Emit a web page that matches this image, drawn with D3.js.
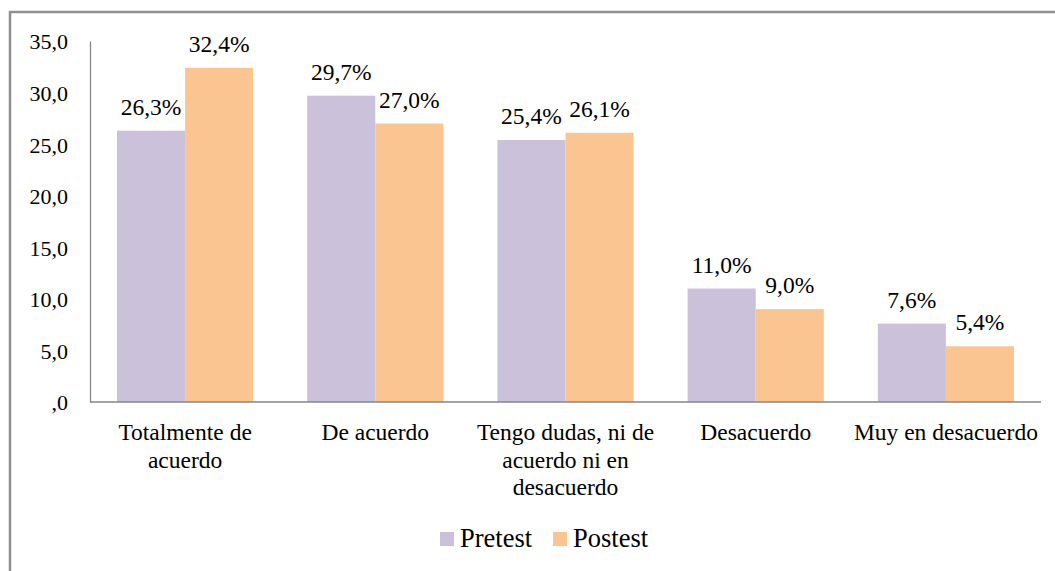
<!DOCTYPE html>
<html>
<head>
<meta charset="utf-8">
<script src="https://cdn.jsdelivr.net/npm/d3@7"></script>
<style>
  body { margin: 0; background: #fff; }
</style>
</head>
<body>
<div id="chart"></div>
<script>
//============Grouped bar chart=========//
var categories = [
  ['Totalmente de', 'acuerdo'],
  ['De acuerdo'],
  ['Tengo dudas, ni de', 'acuerdo ni en', 'desacuerdo'],
  ['Desacuerdo'],
  ['Muy en desacuerdo']
];
var seriesNames = ['Pretest', 'Postest'];
var pretest = [26.3, 29.7, 25.4, 11.0, 7.6];
var postest = [32.4, 27.0, 26.1, 9.0, 5.4];
var yTicks = [0, 5, 10, 15, 20, 25, 30, 35];

var colors = ['#ccc1da', '#fac591'];
var serif = '"Liberation Serif"';

var width = 1055, height = 571;
var plot = {left: 90, right: 1041, top: 41, bottom: 402};

var svg = d3.select('#chart').append('svg')
  .attr('width', width)
  .attr('height', height);

// chart border (cut by the right and bottom edges)
svg.append('rect')
  .attr('x', 10).attr('y', 12)
  .attr('width', 1060).attr('height', 580)
  .attr('fill', 'none')
  .attr('stroke', '#8f8f8f')
  .attr('stroke-width', 2.5);

var x0 = d3.scaleBand()
  .domain(d3.range(categories.length))
  .range([plot.left, plot.right])
  .paddingInner(0.284)
  .paddingOuter(0.142);

var x1 = d3.scaleBand()
  .domain(seriesNames)
  .range([0, x0.bandwidth()]);

var y = d3.scaleLinear()
  .domain([0, 35])
  .range([plot.bottom, plot.top]);

var fmt = function(v) { return d3.format('.1f')(v).replace('.', ',').replace(/^0/, ''); };

// y axis
var yAxis = svg.append('g')
  .attr('transform', 'translate(' + plot.left + ',0)')
  .call(d3.axisLeft(y).tickValues(yTicks).tickSize(0).tickPadding(22).tickFormat(fmt));
yAxis.attr('font-family', null).attr('font-size', null);
yAxis.select('.domain').attr('stroke', '#868686').attr('stroke-width', 1.3);
yAxis.selectAll('text')
  .style('font-family', serif)
  .style('font-size', '22px')
  .style('fill', '#000')
  .attr('dy', '0.36em');

// bars
var data = categories.map(function(c, i) {
  return {i: i, values: [pretest[i], postest[i]]};
});

var groups = svg.selectAll('.group')
  .data(data)
  .enter().append('g')
  .attr('class', 'group')
  .attr('transform', function(d) { return 'translate(' + x0(d.i) + ',0)'; });

groups.selectAll('rect')
  .data(function(d) { return d.values.map(function(v, k) { return {k: k, v: v}; }); })
  .enter().append('rect')
  .attr('x', function(d) { return x1(seriesNames[d.k]); })
  .attr('y', function(d) { return y(d.v); })
  .attr('width', x1.bandwidth())
  .attr('height', function(d) { return y(0) - y(d.v); })
  .attr('fill', function(d) { return colors[d.k]; });

groups.selectAll('.lbl')
  .data(function(d) { return d.values.map(function(v, k) { return {k: k, v: v}; }); })
  .enter().append('text')
  .attr('class', 'lbl')
  .attr('x', function(d) { return x1(seriesNames[d.k]) + x1.bandwidth() / 2; })
  .attr('y', function(d) { return y(d.v) - 16; })
  .attr('text-anchor', 'middle')
  .style('font-family', serif)
  .style('font-size', '23.5px')
  .text(function(d) { return fmt(d.v) + '%'; });

// x axis line
svg.append('line')
  .attr('x1', plot.left).attr('x2', plot.right)
  .attr('y1', y(0)).attr('y2', y(0))
  .attr('stroke', '#868686').attr('stroke-width', 1.3);

// category labels
svg.selectAll('.cat')
  .data(categories)
  .enter().append('text')
  .attr('class', 'cat')
  .attr('text-anchor', 'middle')
  .style('font-family', serif)
  .style('font-size', '23.5px')
  .attr('transform', function(d, i) { return 'translate(' + (x0(i) + x0.bandwidth() / 2) + ',440)'; })
  .selectAll('tspan')
  .data(function(d) { return d; })
  .enter().append('tspan')
  .attr('x', 0)
  .attr('y', function(d, j) { return j * 27.5; })
  .text(function(d) { return d; });

// legend
var legendX = [440, 553];
var legend = svg.selectAll('.legend')
  .data(seriesNames)
  .enter().append('g')
  .attr('class', 'legend')
  .attr('transform', function(d, i) { return 'translate(' + legendX[i] + ',532)'; });

legend.append('rect')
  .attr('width', 14).attr('height', 14)
  .attr('fill', function(d, i) { return colors[i]; });

legend.append('text')
  .attr('x', 20).attr('y', 15)
  .style('font-family', serif)
  .style('font-size', '26.5px')
  .text(function(d) { return d; });
</script>
</body>
</html>
